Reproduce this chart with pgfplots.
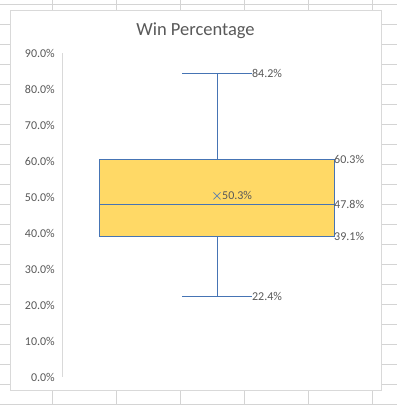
\documentclass[border=0pt]{standalone}
\usepackage{pgfplots}
\pgfplotsset{compat=1.18}
\usepackage{fontspec}
\setmainfont{Carlito}
\definecolor{gridc}{HTML}{D4D4D4}
\definecolor{borderc}{HTML}{D9D9D9}
\definecolor{txt}{HTML}{595959}
\definecolor{boxfill}{HTML}{FFD966}
\definecolor{boxline}{HTML}{4674B4}
\definecolor{meanc}{HTML}{5F80AE}
\begin{document}
\begin{tikzpicture}
\path[use as bounding box] (0pt,0pt) rectangle (397pt,405pt);
% spreadsheet background grid
\foreach \yy in {0,20,...,400} \draw[gridc, line width=1pt] (0pt,\yy pt) -- (397pt,\yy pt);
\foreach \xx in {52,116,...,372} \draw[gridc, line width=1pt] (\xx pt,0pt) -- (\xx pt,405pt);
% chart area
\draw[borderc, fill=white, line width=1pt] (10pt,14pt) rectangle (381pt,394pt);
\node[txt, font=\fontsize{18.5}{20}\selectfont, anchor=base, inner sep=0pt] at (195.5pt,369pt) {Win Percentage};
\begin{axis}[
  at={(63pt,28pt)}, anchor=south west,
  scale only axis, width=308pt, height=324pt,
  xmin=0, xmax=1, ymin=0, ymax=90,
  axis x line=none,
  axis y line*=left,
  y axis line style={borderc, line width=1pt, -},
  ytick={0,10,20,30,40,50,60,70,80,90},
  yticklabels={0.0\%,10.0\%,20.0\%,30.0\%,40.0\%,50.0\%,60.0\%,70.0\%,80.0\%,90.0\%},
  major tick length=0pt,
  yticklabel style={font=\fontsize{12}{14}\selectfont, text=txt, inner sep=0pt, anchor=east, xshift=-8pt},
  clip=false,
]
% box (quartiles 39.1 / 60.3)
\addplot[draw=boxline, fill=boxfill, line width=1pt] coordinates {(0.12,39.1) (0.88,39.1) (0.88,60.3) (0.12,60.3)} -- cycle;
% median
\addplot[draw=boxline, line width=1pt] coordinates {(0.12,47.8) (0.88,47.8)};
% whiskers
\addplot[draw=boxline, line width=1pt] coordinates {(0.5,60.3) (0.5,84.2)};
\addplot[draw=boxline, line width=1pt] coordinates {(0.3865,84.2) (0.6135,84.2)};
\addplot[draw=boxline, line width=1pt] coordinates {(0.5,39.1) (0.5,22.4)};
\addplot[draw=boxline, line width=1pt] coordinates {(0.3865,22.4) (0.6135,22.4)};
% mean
\addplot[only marks, mark=x, mark size=5pt, mark options={draw=meanc, line width=0.8pt}]
  coordinates {(0.5,50.3)};
\node[font=\fontsize{12}{14}\selectfont, text=txt, inner sep=0pt, anchor=west] at (axis cs:0.6135,84.2) {84.2\%};
\node[font=\fontsize{12}{14}\selectfont, text=txt, inner sep=0pt, anchor=west] at (axis cs:0.88,60.3) {60.3\%};
\node[font=\fontsize{12}{14}\selectfont, text=txt, inner sep=0pt, anchor=west] at (axis cs:0.88,47.8) {47.8\%};
\node[font=\fontsize{12}{14}\selectfont, text=txt, inner sep=0pt, anchor=west] at (axis cs:0.88,39.1) {39.1\%};
\node[font=\fontsize{12}{14}\selectfont, text=txt, inner sep=0pt, anchor=west] at (axis cs:0.6135,22.4) {22.4\%};
\node[font=\fontsize{12}{14}\selectfont, text=txt, inner sep=0pt, anchor=west, xshift=5pt] at (axis cs:0.5,50.3) {50.3\%};
\end{axis}
\end{tikzpicture}
\end{document}
